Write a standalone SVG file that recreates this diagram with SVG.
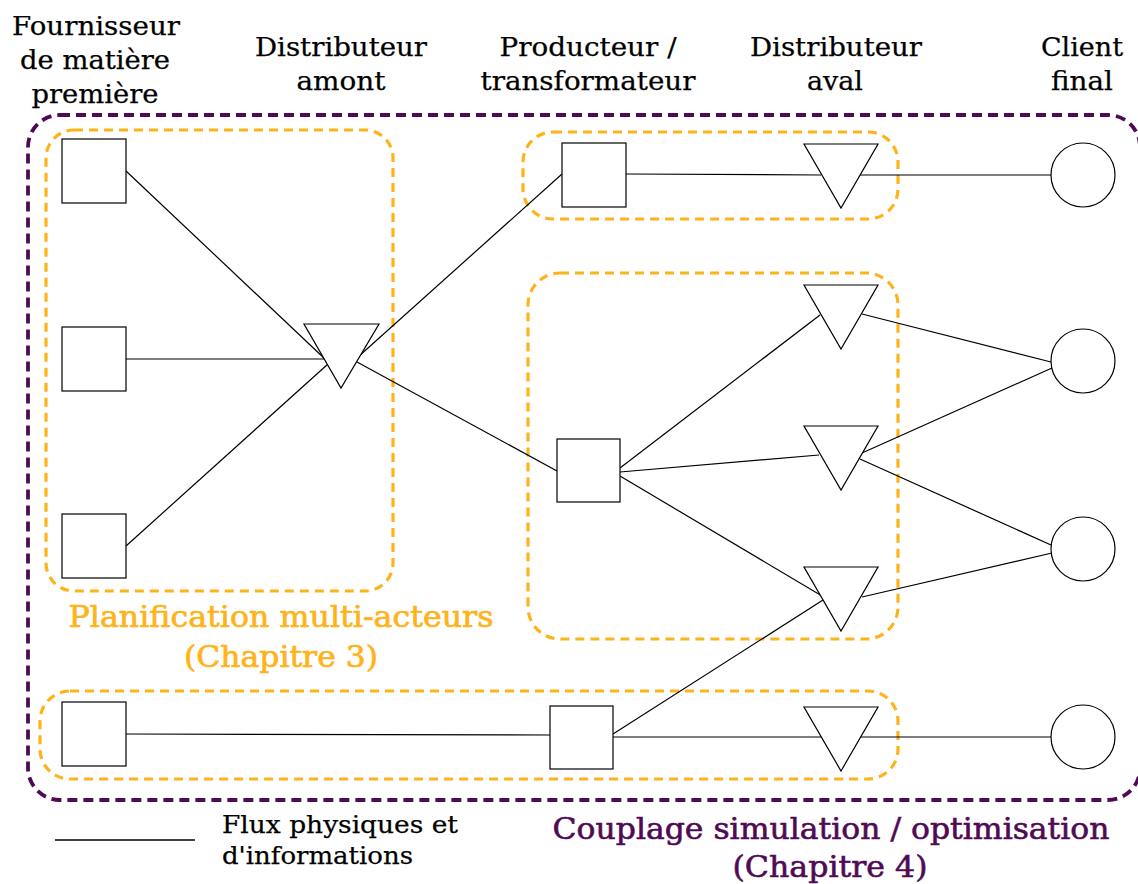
<svg xmlns="http://www.w3.org/2000/svg" width="1138" height="884" viewBox="0 0 1138 884">
<style>
.t{font-family:"DejaVu Serif","Liberation Serif",serif;font-size:26px;fill:#000;stroke:#000;stroke-width:0.25;text-anchor:middle}
.lg{font-family:"DejaVu Serif","Liberation Serif",serif;font-size:25px;fill:#000;stroke:#000;stroke-width:0.25}
.or{font-family:"DejaVu Serif","Liberation Serif",serif;font-size:30px;fill:#FFB31A;stroke:#FFB31A;stroke-width:0.7;text-anchor:middle}
.pu{font-family:"DejaVu Serif","Liberation Serif",serif;font-size:30px;fill:#4F0A54;stroke:#4F0A54;stroke-width:0.6;text-anchor:middle}
.n{fill:#fff;stroke:#000;stroke-width:1.2}
.c{stroke:#000;stroke-width:1.2;fill:none}
.gz{fill:none;stroke:#FFB31A;stroke-width:3.2;stroke-dasharray:9 6}
.pz{fill:none;stroke:#4F0A54;stroke-width:3.8;stroke-dasharray:10 6}
</style>
<rect class="pz" x="28" y="115" width="1112" height="685" rx="32"/>
<rect class="gz" x="46" y="130" width="347" height="461" rx="28"/>
<rect class="gz" x="523" y="132" width="375" height="87" rx="30"/>
<rect class="gz" x="528" y="273" width="370" height="366" rx="32"/>
<rect class="gz" x="40" y="691" width="858" height="88" rx="30"/>
<g id="connectors">
<line class="c" x1="126" y1="171" x2="325" y2="359"/>
<line class="c" x1="126" y1="359" x2="325" y2="359"/>
<line class="c" x1="126" y1="546" x2="328" y2="364"/>
<line class="c" x1="358" y1="357" x2="562" y2="174"/>
<line class="c" x1="357" y1="362" x2="557" y2="471"/>
<line class="c" x1="626" y1="174" x2="821" y2="175"/>
<line class="c" x1="860" y1="175" x2="1051" y2="175"/>
<line class="c" x1="620" y1="468" x2="820" y2="315"/>
<line class="c" x1="620" y1="472" x2="819" y2="455"/>
<line class="c" x1="620" y1="476" x2="822" y2="596"/>
<line class="c" x1="862" y1="314" x2="1051" y2="362"/>
<line class="c" x1="862" y1="453" x2="1052" y2="368"/>
<line class="c" x1="860" y1="459" x2="1051" y2="545"/>
<line class="c" x1="862" y1="597" x2="1052" y2="553"/>
<line class="c" x1="613" y1="734" x2="823" y2="600"/>
<line class="c" x1="126" y1="734" x2="550" y2="735"/>
<line class="c" x1="613" y1="737" x2="823" y2="737"/>
<line class="c" x1="860" y1="737" x2="1051" y2="737"/>
</g>
<g id="supplier1"><rect class="n" x="62" y="139" width="64" height="64"/></g>
<g id="supplier2"><rect class="n" x="62" y="327" width="64" height="64"/></g>
<g id="supplier3"><rect class="n" x="62" y="514" width="64" height="64"/></g>
<g id="supplier4"><rect class="n" x="62" y="702" width="64" height="64"/></g>
<g id="upstream1"><polygon class="n" points="304,324 379,324 341,388"/></g>
<g id="producer1"><rect class="n" x="562" y="143" width="64" height="64"/></g>
<g id="producer2"><rect class="n" x="557" y="439" width="63" height="63"/></g>
<g id="producer3"><rect class="n" x="550" y="706" width="63" height="63"/></g>
<g id="downstream1"><polygon class="n" points="804,144 878,144 841,208"/></g>
<g id="downstream2"><polygon class="n" points="804,285 878,285 841,349"/></g>
<g id="downstream3"><polygon class="n" points="804,426 878,426 841,490"/></g>
<g id="downstream4"><polygon class="n" points="804,567 878,567 841,631"/></g>
<g id="downstream5"><polygon class="n" points="804,707 878,707 841,771"/></g>
<g id="client1"><circle class="n" cx="1083" cy="175" r="32"/></g>
<g id="client2"><circle class="n" cx="1083" cy="361" r="32"/></g>
<g id="client3"><circle class="n" cx="1083" cy="549" r="32"/></g>
<g id="client4"><circle class="n" cx="1083" cy="737" r="32"/></g>
<g id="headers">
<text class="t" x="96" y="35" textLength="168" lengthAdjust="spacingAndGlyphs">Fournisseur</text>
<text class="t" x="95" y="69" textLength="150" lengthAdjust="spacingAndGlyphs">de matière</text>
<text class="t" x="95" y="103" textLength="127" lengthAdjust="spacingAndGlyphs">première</text>
<text class="t" x="341" y="56" textLength="172" lengthAdjust="spacingAndGlyphs">Distributeur</text>
<text class="t" x="341" y="90" textLength="89" lengthAdjust="spacingAndGlyphs">amont</text>
<text class="t" x="588" y="56" textLength="177" lengthAdjust="spacingAndGlyphs">Producteur /</text>
<text class="t" x="588" y="90" textLength="215" lengthAdjust="spacingAndGlyphs">transformateur</text>
<text class="t" x="836" y="56" textLength="172" lengthAdjust="spacingAndGlyphs">Distributeur</text>
<text class="t" x="835" y="90" textLength="56" lengthAdjust="spacingAndGlyphs">aval</text>
<text class="t" x="1082" y="56" textLength="82" lengthAdjust="spacingAndGlyphs">Client</text>
<text class="t" x="1082" y="90" textLength="62" lengthAdjust="spacingAndGlyphs">final</text>
</g>
<g id="label-chap3">
<text class="or" x="281" y="627" textLength="425" lengthAdjust="spacingAndGlyphs">Planification multi-acteurs</text>
<text class="or" x="281" y="667" textLength="194" lengthAdjust="spacingAndGlyphs">(Chapitre 3)</text>
</g>
<g id="label-chap4">
<text class="pu" x="831" y="839" textLength="557" lengthAdjust="spacingAndGlyphs">Couplage simulation / optimisation</text>
<text class="pu" x="830" y="877" textLength="195" lengthAdjust="spacingAndGlyphs">(Chapitre 4)</text>
</g>
<g id="legend">
<line class="c" x1="55" y1="840" x2="195" y2="840" style="stroke-width:1.6"/>
<text class="lg" x="222" y="833" textLength="236" lengthAdjust="spacingAndGlyphs">Flux physiques et</text>
<text class="lg" x="222" y="864" textLength="191" lengthAdjust="spacingAndGlyphs">d'informations</text>
</g>
</svg>
